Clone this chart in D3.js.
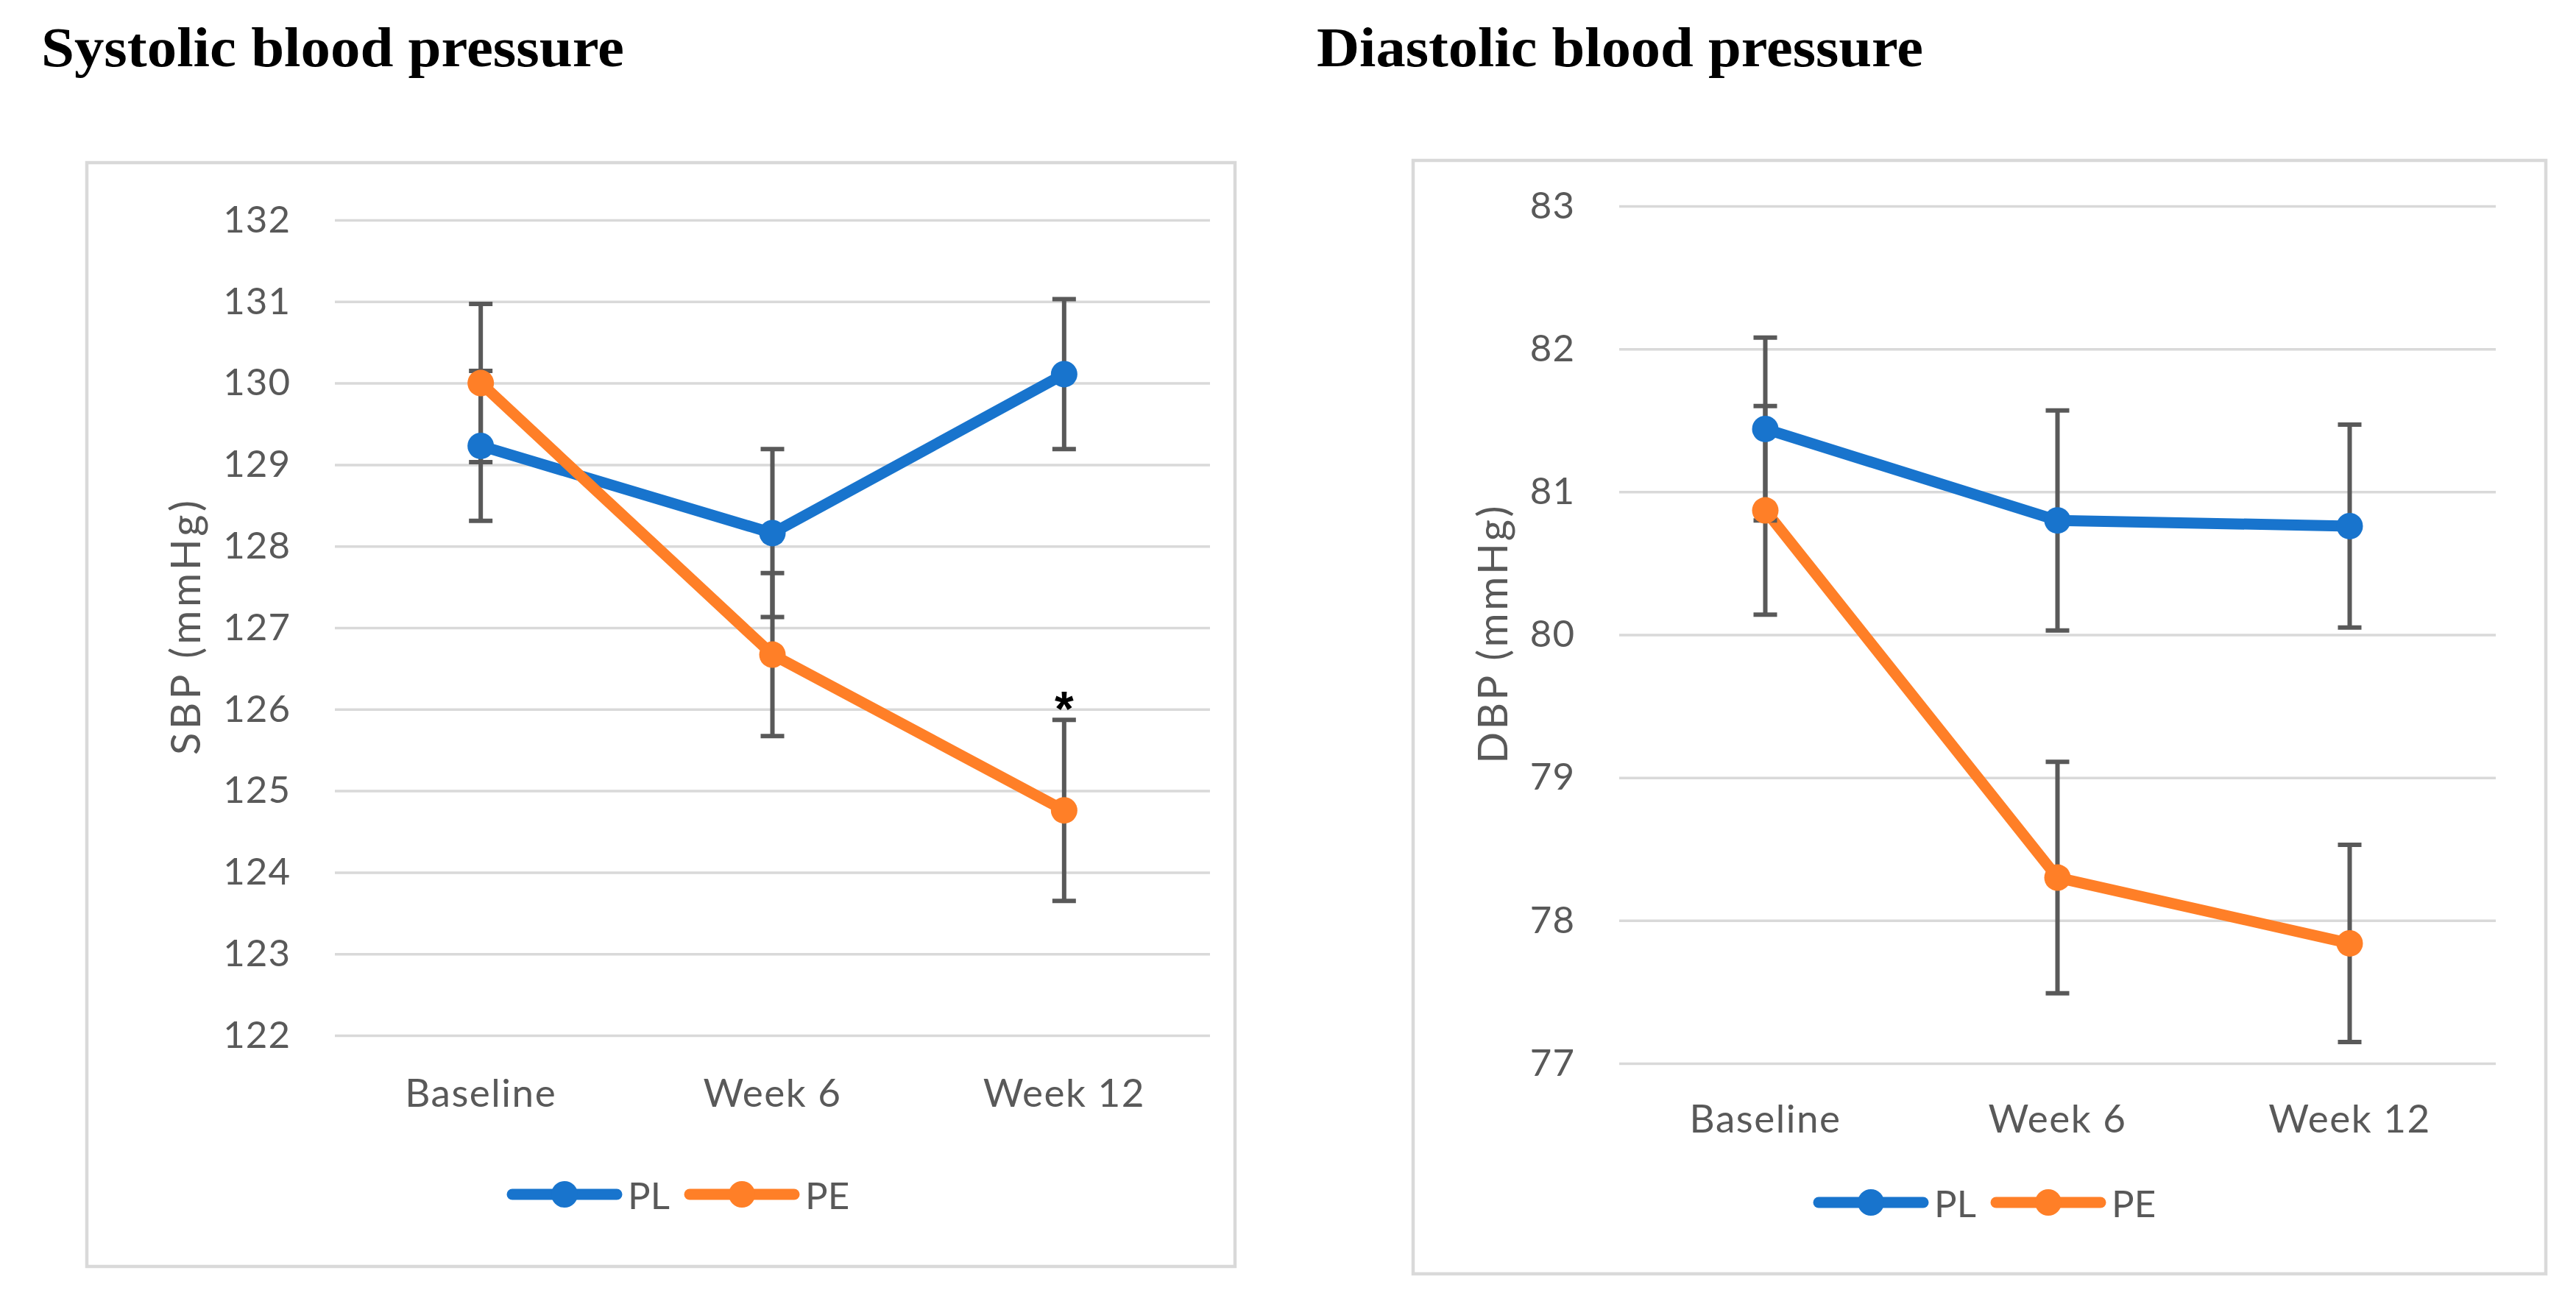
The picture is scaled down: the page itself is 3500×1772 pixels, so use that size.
<!DOCTYPE html>
<html>
<head>
<meta charset="utf-8">
<script src="https://cdn.jsdelivr.net/npm/d3@7"></script>
<style>
html,body{margin:0;padding:0;background:#fff;}
svg{display:block;}
</style>
</head>
<body>
<script>
// ---- data ----
const categories = ["Baseline", "Week 6", "Week 12"];
const seriesNames = ["PL", "PE"];
const sbpPL = [129.23, 128.16, 130.11];
const sbpPLerr = [0.92, 1.03, 0.92];
const sbpPE = [130.00, 126.67, 124.76];
const sbpPEerr = [0.97, 1.00, 1.11];
const sbpTicks = [122, 123, 124, 125, 126, 127, 128, 129, 130, 131, 132];
const dbpPL = [81.44, 80.80, 80.76];
const dbpPLerr = [0.64, 0.77, 0.71];
const dbpPE = [80.87, 78.30, 77.84];
const dbpPEerr = [0.73, 0.81, 0.69];
const dbpTicks = [77, 78, 79, 80, 81, 82, 83];
const titles = ["Systolic blood pressure", "Diastolic blood pressure"];
const yTitles = ["SBP (mmHg)", "DBP (mmHg)"];
const significance = [[null, null, null], [null, null, "*"]]; // per series (PL, PE) for SBP
// ---- end data ----

const W = 3500, H = 1772;
const colors = ["#1874cd", "#ff7f27"];
const grey = "#595959";
const gridC = "#d9d9d9";
const sansFont = "Lato, 'Open Sans', 'Noto Sans', sans-serif";
const serifFont = "'Palatino Linotype', 'Book Antiqua', Palatino, 'Liberation Serif', 'DejaVu Serif', serif";

const svg = d3.select("body").append("svg").attr("width", W).attr("height", H);
svg.append("rect").attr("width", W).attr("height", H).attr("fill", "#fff");

function panel(cfg) {
  const g = svg.append("g");
  // title
  g.append("text").attr("x", cfg.titleX).attr("y", 90)
    .attr("font-family", serifFont).attr("font-weight", "bold")
    .attr("font-size", 76).attr("fill", "#000")
    .attr("textLength", cfg.titleLen).attr("lengthAdjust", "spacingAndGlyphs")
    .text(cfg.title);
  // frame
  g.append("rect").attr("x", cfg.frame[0]).attr("y", cfg.frame[1])
    .attr("width", cfg.frame[2] - cfg.frame[0]).attr("height", cfg.frame[3] - cfg.frame[1])
    .attr("fill", "none").attr("stroke", gridC).attr("stroke-width", 4.5);

  const x = d3.scaleBand().domain(categories).range([cfg.left, cfg.right]);
  const y = d3.scaleLinear().domain(d3.extent(cfg.ticks)).range([cfg.bottom, cfg.top]);

  // gridlines
  const yAxis = d3.axisLeft(y).tickValues(cfg.ticks).tickSize(-(cfg.right - cfg.left)).tickPadding(60).tickFormat(d3.format("d"));
  const ya = g.append("g").attr("transform", `translate(${cfg.left},0)`).call(yAxis);
  ya.select(".domain").remove();
  ya.selectAll(".tick line").attr("stroke", gridC).attr("stroke-width", 3.5);
  ya.selectAll(".tick text").attr("font-family", sansFont).attr("font-size", 51).attr("fill", grey)
    .attr("letter-spacing", 1);

  // x axis labels
  const xAxis = d3.axisBottom(x).tickSize(0).tickPadding(0);
  const xa = g.append("g").attr("transform", `translate(0,${cfg.bottom})`).call(xAxis);
  xa.select(".domain").remove();
  xa.selectAll(".tick text").attr("font-family", sansFont).attr("font-size", 53).attr("fill", grey)
    .attr("letter-spacing", 1.5)
    .attr("dy", null).attr("y", cfg.xLabelOffset);

  // y title
  g.append("text").attr("transform", `translate(${cfg.yTitleX},${(cfg.top + cfg.bottom) / 2}) rotate(-90)`)
    .attr("text-anchor", "middle").attr("dominant-baseline", "central")
    .attr("font-family", sansFont).attr("font-size", 56).attr("fill", grey)
    .attr("textLength", cfg.yTitleLen).attr("lengthAdjust", "spacing")
    .text(cfg.yTitle);

  const cx = c => x(c) + x.bandwidth() / 2;
  const line = d3.line().x(d => cx(d.c)).y(d => y(d.v));

  cfg.series.forEach((s, i) => {
    const pts = categories.map((c, k) => ({ c, v: s.values[k], e: s.errs[k] }));
    g.append("path").datum(pts).attr("d", line).attr("fill", "none")
      .attr("stroke", colors[i]).attr("stroke-width", 15).attr("stroke-linejoin", "round");
  });
  // error bars
  cfg.series.forEach((s, i) => {
    const pts = categories.map((c, k) => ({ c, v: s.values[k], e: s.errs[k] }));
    const eb = g.append("g").attr("stroke", grey).attr("stroke-width", 6);
    pts.forEach(p => {
      eb.append("line").attr("x1", cx(p.c)).attr("x2", cx(p.c)).attr("y1", y(p.v - p.e)).attr("y2", y(p.v + p.e));
      [p.v - p.e, p.v + p.e].forEach(v => {
        eb.append("line").attr("x1", cx(p.c) - 16).attr("x2", cx(p.c) + 16).attr("y1", y(v)).attr("y2", y(v));
      });
    });
  });
  // markers
  cfg.series.forEach((s, i) => {
    categories.forEach((c, k) => {
      g.append("circle").attr("cx", cx(c)).attr("cy", y(s.values[k])).attr("r", 18).attr("fill", colors[i]);
    });
  });
  // significance marks
  if (cfg.sig) {
    cfg.series.forEach((s, i) => {
      categories.forEach((c, k) => {
        const m = cfg.sig[i][k];
        if (m) {
          g.append("text").attr("x", cx(c)).attr("y", y(s.values[k] + s.errs[k]) + 8)
            .attr("text-anchor", "middle").attr("font-family", "'Liberation Sans', Arial, sans-serif")
            .attr("font-weight", "bold")
            .attr("font-size", 66).attr("fill", "#000").text(m);
        }
      });
    });
  }
  // legend
  const lg = g.append("g").attr("transform", `translate(${cfg.legendX},${cfg.legendY})`);
  seriesNames.forEach((n, i) => {
    const ox = i * 241;
    lg.append("line").attr("x1", ox).attr("x2", ox + 142).attr("y1", 0).attr("y2", 0)
      .attr("stroke", colors[i]).attr("stroke-width", 15).attr("stroke-linecap", "round");
    lg.append("circle").attr("cx", ox + 71).attr("cy", 0).attr("r", 18).attr("fill", colors[i]);
    lg.append("text").attr("x", ox + 157).attr("y", 0).attr("dominant-baseline", "central")
      .attr("font-family", sansFont).attr("font-size", 51).attr("fill", grey).text(n);
  });
}

panel({
  title: titles[0], titleX: 56, titleLen: 792,
  frame: [118, 221, 1678, 1721],
  left: 455, right: 1644, top: 299, bottom: 1407,
  ticks: sbpTicks, yTitle: yTitles[0], yTitleX: 250, yTitleLen: 346, xLabelOffset: 97,
  series: [{ values: sbpPL, errs: sbpPLerr }, { values: sbpPE, errs: sbpPEerr }],
  sig: significance,
  legendX: 696, legendY: 1623
});
panel({
  title: titles[1], titleX: 1789, titleLen: 824,
  frame: [1920, 218, 3459, 1731],
  left: 2200, right: 3391, top: 280, bottom: 1445,
  ticks: dbpTicks, yTitle: yTitles[1], yTitleX: 2026, yTitleLen: 350, xLabelOffset: 94,
  series: [{ values: dbpPL, errs: dbpPLerr }, { values: dbpPE, errs: dbpPEerr }],
  sig: null,
  legendX: 2471, legendY: 1634
});
</script>
</body>
</html>
